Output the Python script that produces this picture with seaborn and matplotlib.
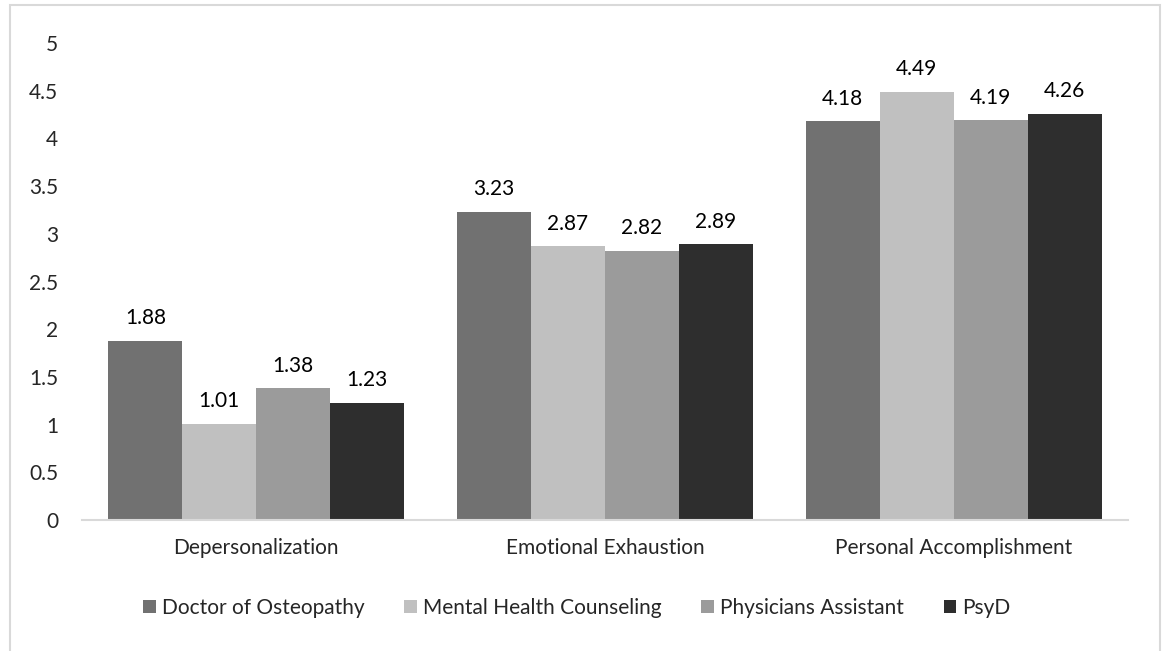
import matplotlib
matplotlib.use("Agg")
import matplotlib.pyplot as plt
import seaborn as sns
import pandas as pd
from matplotlib.patches import Rectangle

categories = ["Depersonalization", "Emotional Exhaustion", "Personal Accomplishment"]
programs = ["Doctor of Osteopathy", "Mental Health Counseling", "Physicians Assistant", "PsyD"]
values = {
    "Doctor of Osteopathy": [1.88, 3.23, 4.18],
    "Mental Health Counseling": [1.01, 2.87, 4.49],
    "Physicians Assistant": [1.38, 2.82, 4.19],
    "PsyD": [1.23, 2.89, 4.26],
}
colors = ["#717171", "#c0c0c0", "#9b9b9b", "#2e2e2e"]
yticks = [0, 0.5, 1, 1.5, 2, 2.5, 3, 3.5, 4, 4.5, 5]
ytick_labels = ["0", "0.5", "1", "1.5", "2", "2.5", "3", "3.5", "4", "4.5", "5"]

rows = []
for p in programs:
    for c, v in zip(categories, values[p]):
        rows.append({"Category": c, "Program": p, "Value": v})
df = pd.DataFrame(rows)

sns.set_style("white")
plt.rcParams["font.family"] = ["Lato", "DejaVu Sans"]
FS = 15

fig = plt.figure(figsize=(11.68, 6.51), dpi=100)
ax = fig.add_axes([82 / 1168, 1 - 520 / 651, (1128 - 82) / 1168, (520 - 43) / 651])

sns.barplot(data=df, x="Category", y="Value", hue="Program", hue_order=programs,
            order=categories, palette=colors, width=0.848, gap=0, ax=ax,
            errorbar=None, saturation=1, legend=True, edgecolor="none")

for container in ax.containers:
    labels = [f"{v:.2f}" for v in container.datavalues]
    ax.bar_label(container, labels=labels, padding=9, fontsize=FS, color="#000000")

ax.set_ylim(0, 5)
ax.set_xlim(-0.5, 2.5)
ax.set_yticks(yticks)
ax.set_yticklabels(ytick_labels, fontsize=FS)
ax.tick_params(axis="x", labelsize=FS, length=0, pad=13)
ax.tick_params(axis="y", length=0, pad=17)
ax.set_xlabel("")
ax.set_ylabel("")
for s in ["top", "right", "left"]:
    ax.spines[s].set_visible(False)
ax.spines["bottom"].set_color("#d9d9d9")
ax.spines["bottom"].set_linewidth(1.5)

handles, labs = ax.get_legend_handles_labels()
ax.get_legend().remove()
fig.legend(handles, labs, loc="center", bbox_to_anchor=(577 / 1168, 1 - 608 / 651), ncol=4,
           frameon=False, fontsize=FS, handlelength=0.6, handleheight=0.6,
           handletextpad=0.3, columnspacing=1.9)

fig.patches.append(Rectangle((10 / 1168, -0.05), 1150 / 1168, 1.05 - 5 / 651,
                             transform=fig.transFigure, fill=False,
                             edgecolor="#d9d9d9", linewidth=1.5))

fig.savefig("out.png", dpi=100)
